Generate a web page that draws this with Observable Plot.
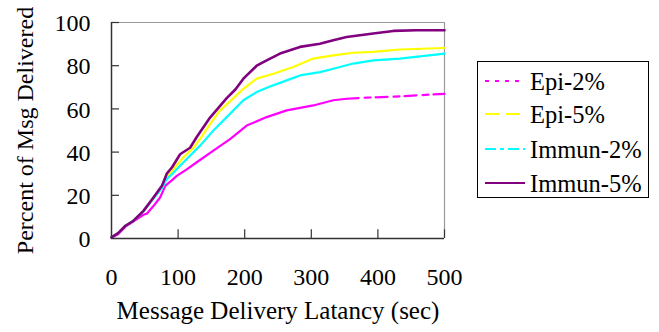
<!DOCTYPE html>
<html><head><meta charset="utf-8">
<script src="https://cdn.jsdelivr.net/npm/d3@7"></script>
<script src="https://cdn.jsdelivr.net/npm/@observablehq/plot@0.6"></script>
<style>
body{margin:0;background:#fff;}
#wrap{position:relative;width:659px;height:332px;font-family:"Liberation Serif","Times New Roman",serif;}
#legend{position:absolute;left:477px;top:61px;}
</style></head>
<body><div id="wrap"><div id="legend"></div></div>
<script>
const seriesNames = ["Epi-2%", "Epi-5%", "Immun-2%", "Immun-5%"];
const seriesColors = ["#FF00FF", "#FFFF00", "#00FFFF", "#800080"];
const seriesDash = ["4,6", "14,7", "11,4,4,4", null];
const xTicks = [0, 100, 200, 300, 400, 500];
const yTicks = [0, 20, 40, 60, 80, 100];

const latency_epi2 =  [0,10,21,33,48,53,63,73,81,91,98,113,128,153,178,203,233,263,303,333,353,383,433,500];
const pct_epi2 =      [0.5,2,5.5,8,11,11.5,15,19,24.5,27,29,32,35.3,40.7,46,52.3,56.2,59.3,61.6,64,64.7,65.2,65.8,67];
const latency_epi5 =  [0,10,21,33,48,63,76,83,91,108,123,135,148,163,178,198,218,243,273,303,333,363,393,433,500];
const pct_epi5 =      [0.5,2.5,5.9,8.2,12.5,18.5,23.5,28,31.4,37.6,42,47,53,59.3,63.5,69.3,74,76.3,79.4,83.3,84.8,86,86.4,87.5,88.2];
const latency_imm2 =  [0,10,21,33,48,63,76,83,91,113,133,153,173,198,218,238,263,283,313,333,363,393,433,500];
const pct_imm2 =      [0.5,2.5,5.9,8.2,12.6,18.5,23.5,27.5,29.9,36.8,43,50,56.2,64,67.8,70.4,73.2,75.5,77,78.6,81,82.5,83.3,85.6];
const latency_imm5 =  [0,10,21,33,48,63,76,83,91,103,118,128,148,173,186,198,218,233,253,283,313,333,353,393,423,458,500];
const pct_imm5 =      [0.5,2.5,5.9,8.2,12.8,19,24.5,30,33,39,42,47,56,65,69,74,80,82.5,85.6,88.7,90.2,91.8,93.3,94.9,96.1,96.4,96.4];

const latencies = [latency_epi2, latency_epi5, latency_imm2, latency_imm5];
const pcts = [pct_epi2, pct_epi5, pct_imm2, pct_imm5];
const rows = [];
seriesNames.forEach((s, i) => latencies[i].forEach((x, j) => rows.push({series: s, x, y: pcts[i][j]})));

const font = "'Liberation Serif', 'Times New Roman', serif";
const sparseFrom = 353; // Epi-2% data becomes sparse (dashed look) from here on

const lineMarks = seriesNames.flatMap((s, i) => {
  const data = rows.filter(r => r.series === s);
  const w = i === 3 ? 2.6 : 2.2;
  if (i === 0) {
    return [
      Plot.line(data.filter(r => r.x <= sparseFrom), {x: "x", y: "y", stroke: seriesColors[i], strokeWidth: w}),
      Plot.line(data.filter(r => r.x >= sparseFrom), {x: "x", y: "y", stroke: seriesColors[i], strokeWidth: w, strokeDasharray: "12,6,6,5"})
    ];
  }
  return [Plot.line(data, {x: "x", y: "y", stroke: seriesColors[i], strokeWidth: w})];
});

const chart = Plot.plot({
  width: 659, height: 332,
  marginLeft: 111, marginRight: 215, marginTop: 22, marginBottom: 94,
  style: {fontFamily: font, fontSize: "24px", color: "#000", background: "#fff"},
  x: {domain: [0, 500], ticks: xTicks, label: null},
  y: {domain: [0, 100], ticks: yTicks, label: null},
  marks: [
    Plot.ruleY([100], {stroke: "#999", strokeWidth: 1.2}),
    Plot.ruleX([500], {stroke: "#999", strokeWidth: 1.2}),
    Plot.axisX({ticks: xTicks, tickSize: 0, tickPadding: 29, fontSize: 24, label: null}),
    Plot.axisY({ticks: yTicks, tickSize: 0, tickPadding: 21, fontSize: 24, dy: 1, label: null}),
    Plot.ruleX(xTicks.slice(1), {x: d => d, y1: 0, y2: 4, stroke: "#333", strokeWidth: 1.2}),
    Plot.ruleY(yTicks.slice(1), {y: d => d, x1: 0, x2: 12, stroke: "#333", strokeWidth: 1.2}),
    ...lineMarks,
    Plot.ruleX([0], {stroke: "#333", strokeWidth: 1.5}),
    Plot.ruleY([0], {stroke: "#333", strokeWidth: 1.5}),
    Plot.text(["Message Delivery Latancy (sec)"], {frameAnchor: "bottom", dy: 80, fontSize: 25, fill: "#000"}),
    Plot.text(["Percent of Msg Delivered"], {frameAnchor: "left", textAnchor: "middle", lineAnchor: "middle", dx: -86, rotate: -90, fontSize: 24, fill: "#000"})
  ]
});
document.getElementById("wrap").prepend(chart);

// Legend (HTML/SVG overlay)
const lineY = [20, 53, 88, 122];
let svg = `<svg width="173" height="138" style="display:block;font-family:${font.replace(/'/g, "&quot;")}">`;
svg += `<rect x="0.5" y="0.5" width="171" height="136" fill="#fff" stroke="#000" stroke-width="1"/>`;
seriesNames.forEach((s, i) => {
  svg += `<line x1="8" x2="48" y1="${lineY[i]}" y2="${lineY[i]}" stroke="${seriesColors[i]}" stroke-width="2.2" ${seriesDash[i] ? `stroke-dasharray="${seriesDash[i]}"` : ""}/>`;
  svg += `<text x="53" y="${lineY[i] + 9}" font-size="24.5" fill="#000">${s}</text>`;
});
svg += `</svg>`;
document.getElementById("legend").innerHTML = svg;
</script></body></html>
